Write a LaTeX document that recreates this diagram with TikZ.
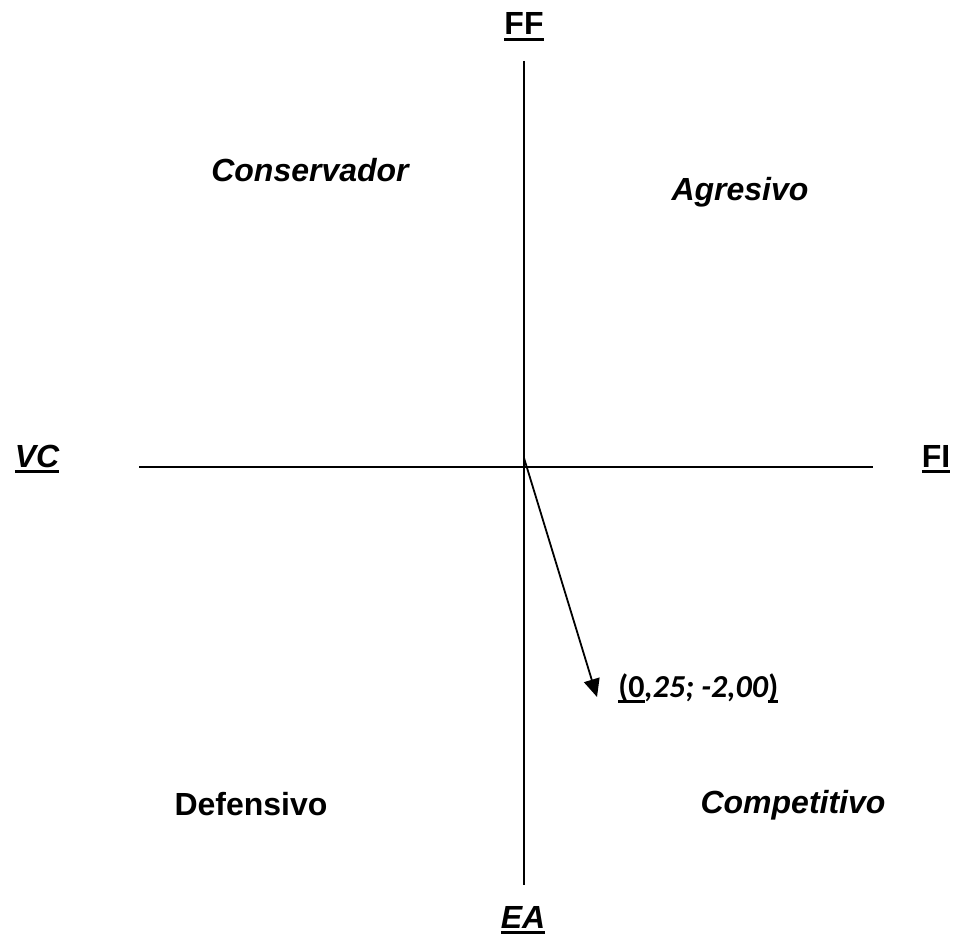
\documentclass[tikz,border=0pt]{standalone}
\usepackage{fontspec}
\setmainfont{Liberation Sans}
\newfontfamily\calibri{Carlito}
\newsavebox{\ulbox}
\newcommand{\ulin}[1]{\sbox{\ulbox}{#1}\rlap{\rule[-3pt]{\wd\ulbox}{1.5pt}}\usebox{\ulbox}}
\usetikzlibrary{arrows.meta}
\tikzset{
  axis/.style={draw=black, line width=1pt},
  vector/.style={draw=black, line width=0.9pt, -{Triangle[length=9pt,width=8pt]}},
  axlabel/.style={font=\fontsize{16}{19}\selectfont\bfseries, anchor=base, inner sep=0pt},
  quadlabel/.style={font=\fontsize{16}{19}\selectfont\bfseries, anchor=base, inner sep=0pt},
  ptlabel/.style={font=\fontsize{16}{19}\selectfont\calibri\bfseries, anchor=base west, inner sep=0pt}
}

\begin{document}
\begin{tikzpicture}[x=0.5pt,y=-0.5pt]
  \useasboundingbox (0,0) rectangle (961,935);

  % Axis ends and origin.
  \coordinate (top) at (524,61);
  \coordinate (bottom) at (524,885);
  \coordinate (left) at (139,467);
  \coordinate (right) at (873,467);
  \coordinate (orig) at (524,458);
  \coordinate (tip) at (597,697);

  % Axes.
  \draw[axis] (top) -- (bottom);
  \draw[axis] (left) -- (right);

  % Axis labels.
  \node[axlabel] (ff) at (524,35) {\ulin{FF}};
  \node[axlabel] (ea) at (523,928) {\ulin{\itshape EA}};
  \node[axlabel] (vc) at (37,467) {\ulin{\itshape VC}};
  \node[axlabel] (fi) at (936,467) {\ulin{FI}};

  % Quadrants.
  \node[quadlabel] (cons) at (310,182) {\itshape Conservador};
  \node[quadlabel] (agre) at (740,201) {\itshape Agresivo};
  \node[quadlabel] (defe) at (251,815) {Defensivo};
  \node[quadlabel] (comp) at (793,813) {\itshape Competitivo};

  % Position vector.
  \draw[vector] (orig) -- (tip);
  \node[ptlabel] (pos) at (618,697) {\ulin{(0}\textit{,25; -2,00}\ulin{)}};
\end{tikzpicture}
\end{document}
